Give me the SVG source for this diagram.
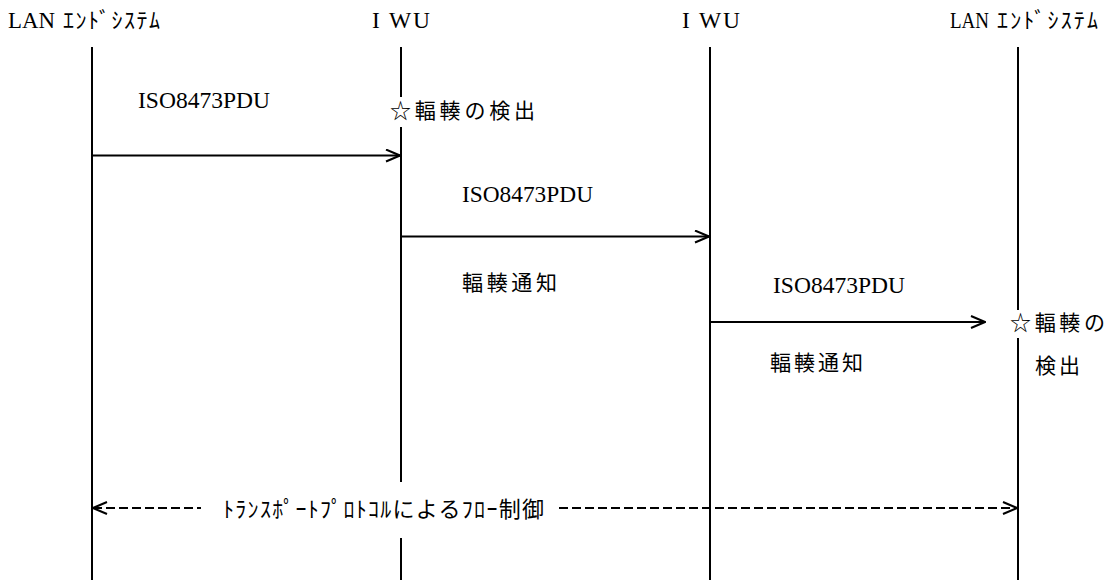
<svg xmlns="http://www.w3.org/2000/svg" width="1119" height="580" viewBox="0 0 1119 580">
<style>
.ll{stroke:#000;stroke-width:2;fill:none}
.msg{stroke:#000;stroke-width:2;fill:none}
.dash{stroke-dasharray:9 4}
text{font-family:"Liberation Serif","Noto Sans CJK JP",serif;font-size:23.5px;fill:#000}
.jp{font-family:"Noto Sans CJK JP",sans-serif;font-size:21px}
.hk{font-family:"Noto Sans CJK JP",sans-serif;font-size:22px}
</style>
<defs>
<marker id="open" markerWidth="16" markerHeight="14" refX="15" refY="7" orient="auto-start-reverse" markerUnits="userSpaceOnUse">
<path d="M1,1 L15,7 L1,13" fill="none" stroke="#000" stroke-width="2"/>
</marker>
</defs>
<rect width="1119" height="580" fill="#fff"/>
<g id="lan-end-system-1">
<text x="8" y="28" textLength="47" lengthAdjust="spacingAndGlyphs">LAN</text>
<text class="hk" x="63" y="28" textLength="97">ｴﾝﾄﾞｼｽﾃﾑ</text>
<path class="ll" d="M92,47 V580"/>
</g>
<g id="iwu-1">
<text x="372" y="28" textLength="58">I WU</text>
<path class="ll" d="M401,47 V97 M401,127 V482 M401,538 V580"/>
</g>
<g id="iwu-2">
<text x="682" y="28" textLength="58">I WU</text>
<path class="ll" d="M710,47 V580"/>
</g>
<g id="lan-end-system-2">
<text x="950" y="28" textLength="39" lengthAdjust="spacingAndGlyphs" font-size="22">LAN</text>
<text class="hk" x="997" y="28" textLength="101">ｴﾝﾄﾞｼｽﾃﾑ</text>
<path class="ll" d="M1018,47 V310 M1018,338 V580"/>
</g>
<g id="notes">
<text class="jp" x="390" y="118" textLength="145">☆輻輳の検出</text>
<text class="jp" x="462" y="290" textLength="95">輻輳通知</text>
<text class="jp" x="770" y="370" textLength="93">輻輳通知</text>
<text class="jp" x="1010" y="330" textLength="95">☆輻輳の</text>
<text class="jp" x="1035" y="373" textLength="45">検出</text>
</g>
<g id="connectors">
<path class="msg" d="M92,155.5 H400" marker-end="url(#open)"/>
<text x="138" y="108" textLength="132" lengthAdjust="spacingAndGlyphs">ISO8473PDU</text>
<path class="msg" d="M401,236.5 H709" marker-end="url(#open)"/>
<text x="462" y="202" textLength="131" lengthAdjust="spacingAndGlyphs">ISO8473PDU</text>
<path class="msg" d="M710,322 H985" marker-end="url(#open)"/>
<text x="773" y="293" textLength="132" lengthAdjust="spacingAndGlyphs">ISO8473PDU</text>
<path class="msg dash" d="M93,508 H201" marker-start="url(#open)"/>
<path class="msg dash" d="M559,508 H1017" marker-end="url(#open)"/>
<text class="hk" x="223" y="517" textLength="321">ﾄﾗﾝｽﾎﾟｰﾄﾌﾟﾛﾄｺﾙによるﾌﾛｰ制御</text>
</g>
</svg>
